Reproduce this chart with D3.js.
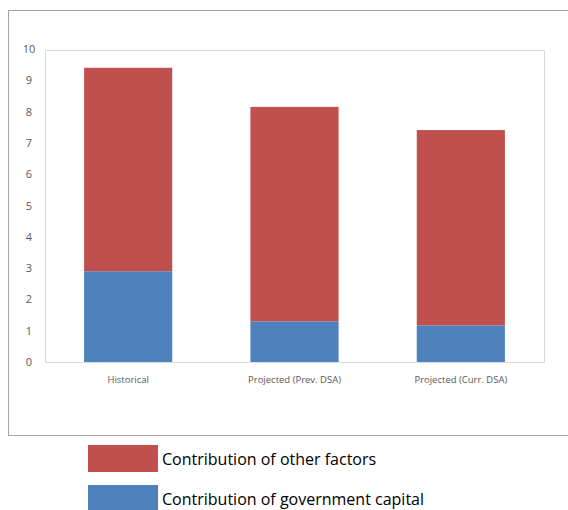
<!DOCTYPE html>
<html>
<head>
<meta charset="utf-8">
<script src="https://cdn.jsdelivr.net/npm/d3@7"></script>
<style>
  html, body { margin: 0; padding: 0; background: #fff; }
  svg { display: block; }
</style>
</head>
<body>
<svg id="chart" width="568" height="510"></svg>
<script>
// Growth decomposition: government capital vs. other factors
const categories = ["Historical", "Projected (Prev. DSA)", "Projected (Curr. DSA)"];
const govCapital = [2.9, 1.3, 1.17];
const otherFactors = [6.5, 6.85, 6.24];
const yTicks = [0, 1, 2, 3, 4, 5, 6, 7, 8, 9, 10];
const seriesNames = ["Contribution of other factors", "Contribution of government capital"];
const seriesColors = ["#c0504d", "#4f81bd"];

const svg = d3.select("#chart");
const font = "'Open Sans', 'DejaVu Sans', sans-serif";

// outer chart frame
svg.append("rect")
  .attr("x", 8.5).attr("y", 10.5).attr("width", 570).attr("height", 425)
  .attr("fill", "none").attr("stroke", "#a6a6a6").attr("stroke-width", 1);

const plot = { left: 45, right: 544, top: 50, bottom: 362 };

const x = d3.scaleBand()
  .domain(categories)
  .range([plot.left, plot.right])
  .paddingInner(0.47).paddingOuter(0.235);

const y = d3.scaleLinear().domain([0, 10]).range([plot.bottom, 49]);

// plot area frame
svg.append("rect")
  .attr("x", plot.left + 0.5).attr("y", plot.top + 0.5)
  .attr("width", plot.right - plot.left).attr("height", plot.bottom - plot.top)
  .attr("fill", "none").attr("stroke", "#d9d9d9");

// stacked data
const rows = categories.map((c, i) => ({ cat: c, gov: govCapital[i], other: otherFactors[i] }));
const stack = d3.stack().keys(["gov", "other"])(rows);
const colorByKey = { gov: seriesColors[1], other: seriesColors[0] };

svg.append("g").selectAll("g")
  .data(stack).join("g")
  .attr("fill", d => colorByKey[d.key])
  .selectAll("rect")
  .data(d => d).join("rect")
  .attr("x", d => x(d.data.cat))
  .attr("width", x.bandwidth())
  .attr("y", d => y(d[1]))
  .attr("height", d => y(d[0]) - y(d[1]));

// y axis labels
const yAxis = d3.axisLeft(y).tickValues(yTicks).tickSize(0).tickPadding(0);
const gy = svg.append("g").attr("transform", "translate(34,0)").call(yAxis);
gy.select(".domain").remove();
gy.selectAll("text")
  .attr("font-family", font).attr("font-size", 11).attr("fill", "#595959")
  .attr("text-anchor", "middle").attr("dx", -5);

// x axis labels
const xAxis = d3.axisBottom(x).tickSize(0).tickPadding(0);
const gx = svg.append("g").attr("transform", `translate(0,${plot.bottom + 14})`).call(xAxis);
gx.select(".domain").remove();
gx.selectAll("text")
  .attr("font-family", font).attr("font-size", 9.5).attr("fill", "#595959");

// legend
const legend = svg.append("g");
seriesNames.forEach((name, i) => {
  const ly = 445 + i * 40;
  legend.append("rect")
    .attr("x", 88).attr("y", ly).attr("width", 70).attr("height", 27)
    .attr("fill", seriesColors[i]);
  legend.append("text")
    .attr("x", 162).attr("y", ly + 20)
    .attr("font-family", font).attr("font-size", 16).attr("fill", "#000")
    .text(name);
});
</script>
</body>
</html>
